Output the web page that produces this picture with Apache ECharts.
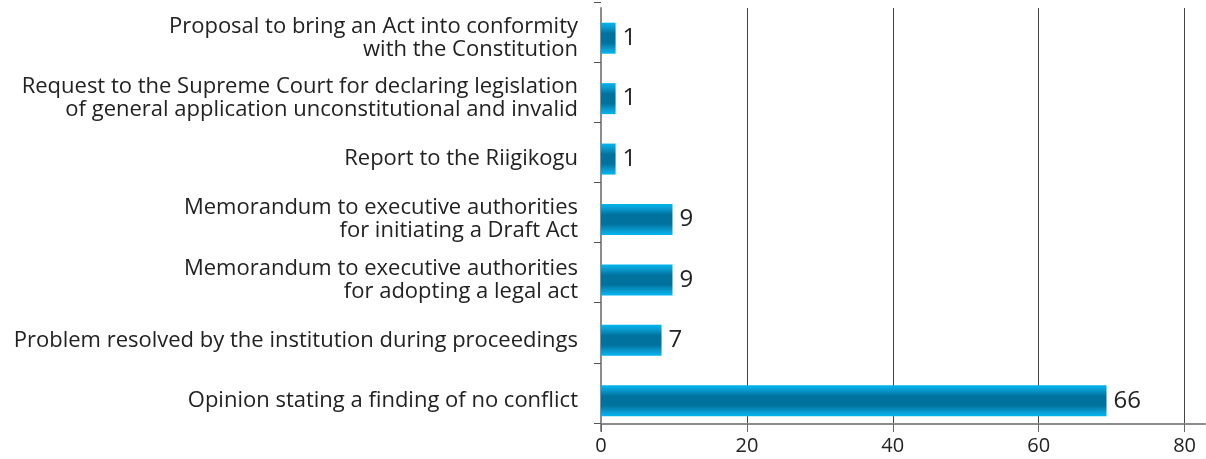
<!DOCTYPE html>
<html>
<head>
<meta charset="utf-8">
<style>
  html, body { margin: 0; padding: 0; background: #fff; }
  #chart { width: 1206px; height: 459px; }
</style>
<script src="https://cdn.jsdelivr.net/npm/echarts@6/dist/echarts.min.js"></script>
</head>
<body>
<div id="chart"></div>
<script>
// Categories listed bottom → top (ECharts category y-axis order)
const categories = [
  'Opinion stating a finding of no conflict',
  'Problem resolved by the institution during proceedings',
  'Memorandum to executive authorities\nfor adopting a legal act',
  'Memorandum to executive authorities\nfor initiating a Draft Act',
  'Report to the Riigikogu',
  'Request to the Supreme Court for declaring legislation\nof general application unconstitutional and invalid',
  'Proposal to bring an Act into conformity\nwith the Constitution'
];
// Printed value labels
const labelValues = [66, 7, 9, 9, 1, 1, 1];
// Bar lengths as drawn in the picture (axis units)
const barLengths = [69.3, 8.3, 9.8, 9.8, 2.0, 2.0, 2.0];
const xTicks = [0, 20, 40, 60, 80];

const FONT = '"Open Sans"';
const chart = echarts.init(document.getElementById('chart'));

const barGradient = new echarts.graphic.LinearGradient(0, 0, 0, 1, [
  { offset: 0, color: '#00b6ee' },
  { offset: 0.12, color: '#0aa0d6' },
  { offset: 0.35, color: '#00729d' },
  { offset: 0.65, color: '#00729d' },
  { offset: 0.88, color: '#0aa0d6' },
  { offset: 1, color: '#00b6ee' }
]);

chart.setOption({
  animation: false,
  backgroundColor: '#ffffff',
  grid: [
    { left: 601, width: 604, top: 8, height: 423, containLabel: false },
    { left: 601, width: 604, top: 2, height: 421, containLabel: false }
  ],
  xAxis: [
    {
      type: 'value',
      gridIndex: 0,
      min: 0,
      max: 82.8,
      interval: 20,
      offset: -7,
      axisLine: { show: true, lineStyle: { color: '#8c8c8c', width: 2 } },
      axisTick: { show: true, length: 8, customValues: xTicks, lineStyle: { color: '#666', width: 1 } },
      axisLabel: {
        customValues: xTicks,
        margin: 12,
        fontFamily: FONT, fontSize: 20, color: '#222'
      },
      splitLine: { show: true, showMinLine: false, showMaxLine: true, lineStyle: { color: '#444', width: 1 } }
    },
    {
      type: 'value', gridIndex: 1, min: 0, max: 82.8, show: false
    }
  ],
  yAxis: [
    {
      type: 'category',
      gridIndex: 0,
      data: categories,
      axisLine: { show: true, lineStyle: { color: '#8c8c8c', width: 2 } },
      axisTick: { show: false },
      axisLabel: {
        margin: 23,
        fontFamily: FONT, fontSize: 22, color: '#222',
        lineHeight: 23, align: 'right'
      },
      splitLine: { show: false }
    },
    {
      type: 'category',
      gridIndex: 1,
      data: categories,
      axisLine: { show: false },
      axisTick: { show: true, length: 7, lineStyle: { color: '#555', width: 1 } },
      axisLabel: { show: false },
      splitLine: { show: false }
    }
  ],
  series: [
    {
      type: 'bar',
      xAxisIndex: 0,
      yAxisIndex: 0,
      data: barLengths,
      barWidth: 31,
      itemStyle: { color: barGradient },
      label: {
        show: true,
        position: 'right',
        distance: 7,
        fontFamily: FONT,
        fontSize: 24,
        color: '#222',
        formatter: (p) => String(labelValues[p.dataIndex])
      }
    }
  ]
});
</script>
</body>
</html>
